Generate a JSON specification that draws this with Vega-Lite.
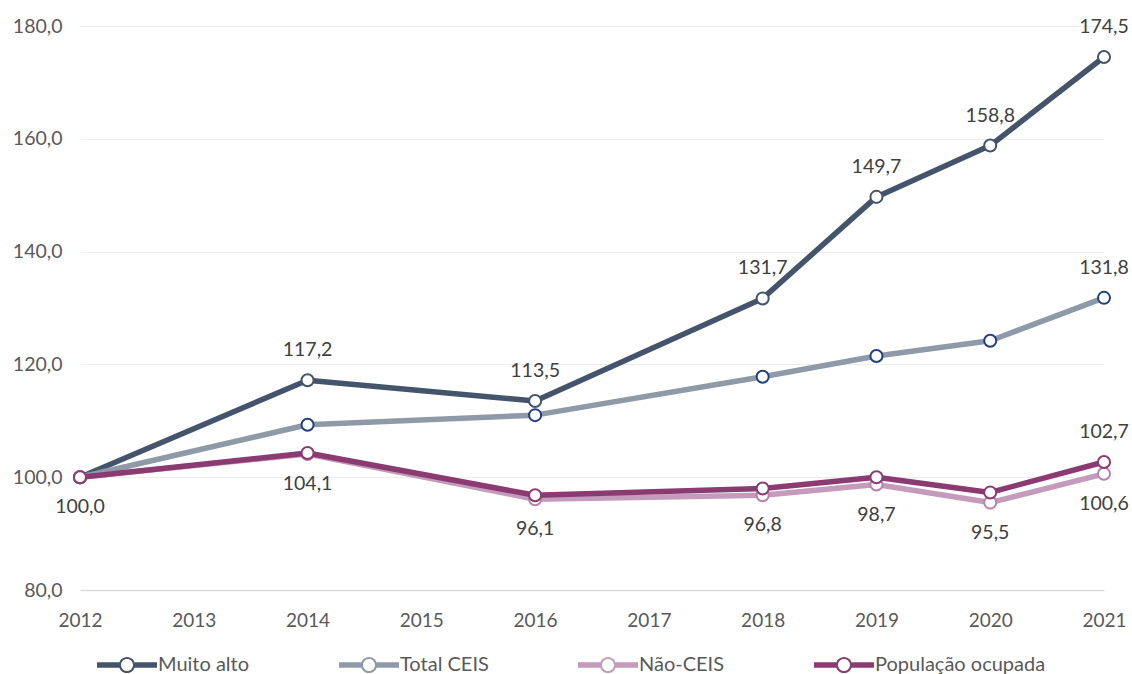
{
  "$schema": "https://vega.github.io/schema/vega-lite/v6.json",
  "width": 1024,
  "height": 564,
  "autosize": {"type": "none"},
  "padding": {"left": 80, "top": 26, "right": 28, "bottom": 84},
  "background": "white",
  "config": {
    "locale": {"number": {"decimal": ",", "thousands": ".", "grouping": [3], "currency": ["R$", ""]}},
    "view": {"stroke": null},
    "font": "Lato",
    "legend": {"labelFont": "Lato", "labelFontSize": 20, "labelColor": "#595959", "labelLimit": 400, "columnPadding": 89, "labelOffset": 1, "title": null}
  },
  "data": {
    "values": [
      {"ano": 2012, "serie": "Muito alto", "valor": 100.0},
      {"ano": 2014, "serie": "Muito alto", "valor": 117.2},
      {"ano": 2016, "serie": "Muito alto", "valor": 113.5},
      {"ano": 2018, "serie": "Muito alto", "valor": 131.7},
      {"ano": 2019, "serie": "Muito alto", "valor": 149.7},
      {"ano": 2020, "serie": "Muito alto", "valor": 158.8},
      {"ano": 2021, "serie": "Muito alto", "valor": 174.5},
      {"ano": 2012, "serie": "Total CEIS", "valor": 100.0},
      {"ano": 2014, "serie": "Total CEIS", "valor": 109.3},
      {"ano": 2016, "serie": "Total CEIS", "valor": 111.0},
      {"ano": 2018, "serie": "Total CEIS", "valor": 117.8},
      {"ano": 2019, "serie": "Total CEIS", "valor": 121.5},
      {"ano": 2020, "serie": "Total CEIS", "valor": 124.2},
      {"ano": 2021, "serie": "Total CEIS", "valor": 131.8},
      {"ano": 2012, "serie": "Não-CEIS", "valor": 100.0},
      {"ano": 2014, "serie": "Não-CEIS", "valor": 104.1},
      {"ano": 2016, "serie": "Não-CEIS", "valor": 96.1},
      {"ano": 2018, "serie": "Não-CEIS", "valor": 96.8},
      {"ano": 2019, "serie": "Não-CEIS", "valor": 98.7},
      {"ano": 2020, "serie": "Não-CEIS", "valor": 95.5},
      {"ano": 2021, "serie": "Não-CEIS", "valor": 100.6},
      {"ano": 2012, "serie": "População ocupada", "valor": 100.0},
      {"ano": 2014, "serie": "População ocupada", "valor": 104.3},
      {"ano": 2016, "serie": "População ocupada", "valor": 96.8},
      {"ano": 2018, "serie": "População ocupada", "valor": 98.0},
      {"ano": 2019, "serie": "População ocupada", "valor": 100.0},
      {"ano": 2020, "serie": "População ocupada", "valor": 97.3},
      {"ano": 2021, "serie": "População ocupada", "valor": 102.7}
    ]
  },
  "encoding": {
    "x": {
      "field": "ano", "type": "quantitative",
      "scale": {"domain": [2012, 2021], "nice": false, "zero": false},
      "axis": {"title": null, "values": [2012, 2013, 2014, 2015, 2016, 2017, 2018, 2019, 2020, 2021], "format": "d", "labelFlush": false, "labelOverlap": false, "grid": false, "ticks": false, "domain": true, "domainColor": "#D9D9D9", "domainWidth": 1.5, "labelPadding": 21, "labelFont": "Lato", "labelFontSize": 19, "labelColor": "#595959"}
    },
    "y": {
      "field": "valor", "type": "quantitative",
      "scale": {"domain": [80, 180], "nice": false, "zero": false},
      "axis": {"title": null, "values": [80, 100, 120, 140, 160, 180], "format": ".1f", "grid": true, "gridColor": "#EDEDED", "gridWidth": 1.2, "domain": false, "ticks": false, "labelPadding": 18, "labelFont": "Lato", "labelFontSize": 19.5, "labelColor": "#595959"}
    }
  },
  "layer": [
    {
      "transform": [{"filter": "datum.serie === 'Muito alto'"}],
      "mark": {"type": "line", "strokeWidth": 5.5, "strokeJoin": "round"},
      "encoding": {
        "color": {
          "field": "serie", "type": "nominal",
          "scale": {"domain": ["Muito alto", "Total CEIS", "Não-CEIS", "População ocupada"], "range": ["#44546A", "#8E9AA8", "#C49BBA", "#8B3A72"]},
          "legend": {
            "orient": "none", "legendX": 17, "legendY": 609, "direction": "horizontal", "columns": 4,
            "symbolType": "M-1,-0.09L-0.26,-0.09L-0.26,0.09L-1,0.09ZM0.26,-0.09L1,-0.09L1,0.09L0.26,0.09ZM-0.27,0A0.27,0.27 0 1,1 0.27,0A0.27,0.27 0 1,1 -0.27,0ZM-0.2,0A0.2,0.2 0 1,0 0.2,0A0.2,0.2 0 1,0 -0.2,0Z",
            "symbolSize": 3600,
            "encode": {"symbols": {"update": {"fill": {"scale": "color", "field": "value"}, "strokeWidth": {"value": 0}, "opacity": {"value": 1}}}}
          }
        }
      }
    },
    {
      "transform": [{"filter": "datum.serie === 'Muito alto'"}],
      "mark": {"type": "point", "shape": "circle", "filled": true, "fill": "white", "size": 145, "strokeWidth": 2, "opacity": 1, "stroke": "#44546A"}
    },
    {
      "transform": [{"filter": "datum.serie === 'Total CEIS'"}],
      "mark": {"type": "line", "strokeWidth": 5.5, "strokeJoin": "round"},
      "encoding": {"color": {"field": "serie", "type": "nominal"}}
    },
    {
      "transform": [{"filter": "datum.serie === 'Total CEIS'"}],
      "mark": {"type": "point", "shape": "circle", "filled": true, "fill": "white", "size": 145, "strokeWidth": 2, "opacity": 1, "stroke": "#203F80"}
    },
    {
      "transform": [{"filter": "datum.serie === 'Não-CEIS'"}],
      "mark": {"type": "line", "strokeWidth": 5.5, "strokeJoin": "round"},
      "encoding": {"color": {"field": "serie", "type": "nominal"}}
    },
    {
      "transform": [{"filter": "datum.serie === 'Não-CEIS'"}],
      "mark": {"type": "point", "shape": "circle", "filled": true, "fill": "white", "size": 145, "strokeWidth": 2, "opacity": 1, "stroke": "#B783AB"}
    },
    {
      "transform": [{"filter": "datum.serie === 'População ocupada'"}],
      "mark": {"type": "line", "strokeWidth": 5.5, "strokeJoin": "round"},
      "encoding": {"color": {"field": "serie", "type": "nominal"}}
    },
    {
      "transform": [{"filter": "datum.serie === 'População ocupada'"}],
      "mark": {"type": "point", "shape": "circle", "filled": true, "fill": "white", "size": 145, "strokeWidth": 2, "opacity": 1, "stroke": "#8B3A72"}
    },
    {
      "transform": [{"filter": "datum.serie === 'Muito alto' && datum.ano > 2012"}],
      "mark": {"type": "text", "dy": -30, "font": "Lato", "fontSize": 19.5, "color": "#404040"},
      "encoding": {"text": {"field": "valor", "type": "quantitative", "format": ".1f"}}
    },
    {
      "transform": [{"filter": "(datum.serie === 'Total CEIS' || datum.serie === 'População ocupada') && datum.ano === 2021"}],
      "mark": {"type": "text", "dy": -30, "font": "Lato", "fontSize": 19.5, "color": "#404040"},
      "encoding": {"text": {"field": "valor", "type": "quantitative", "format": ".1f"}}
    },
    {
      "transform": [{"filter": "datum.serie === 'Não-CEIS'"}],
      "mark": {"type": "text", "dy": 30, "font": "Lato", "fontSize": 19.5, "color": "#404040"},
      "encoding": {"text": {"field": "valor", "type": "quantitative", "format": ".1f"}}
    }
  ]
}
